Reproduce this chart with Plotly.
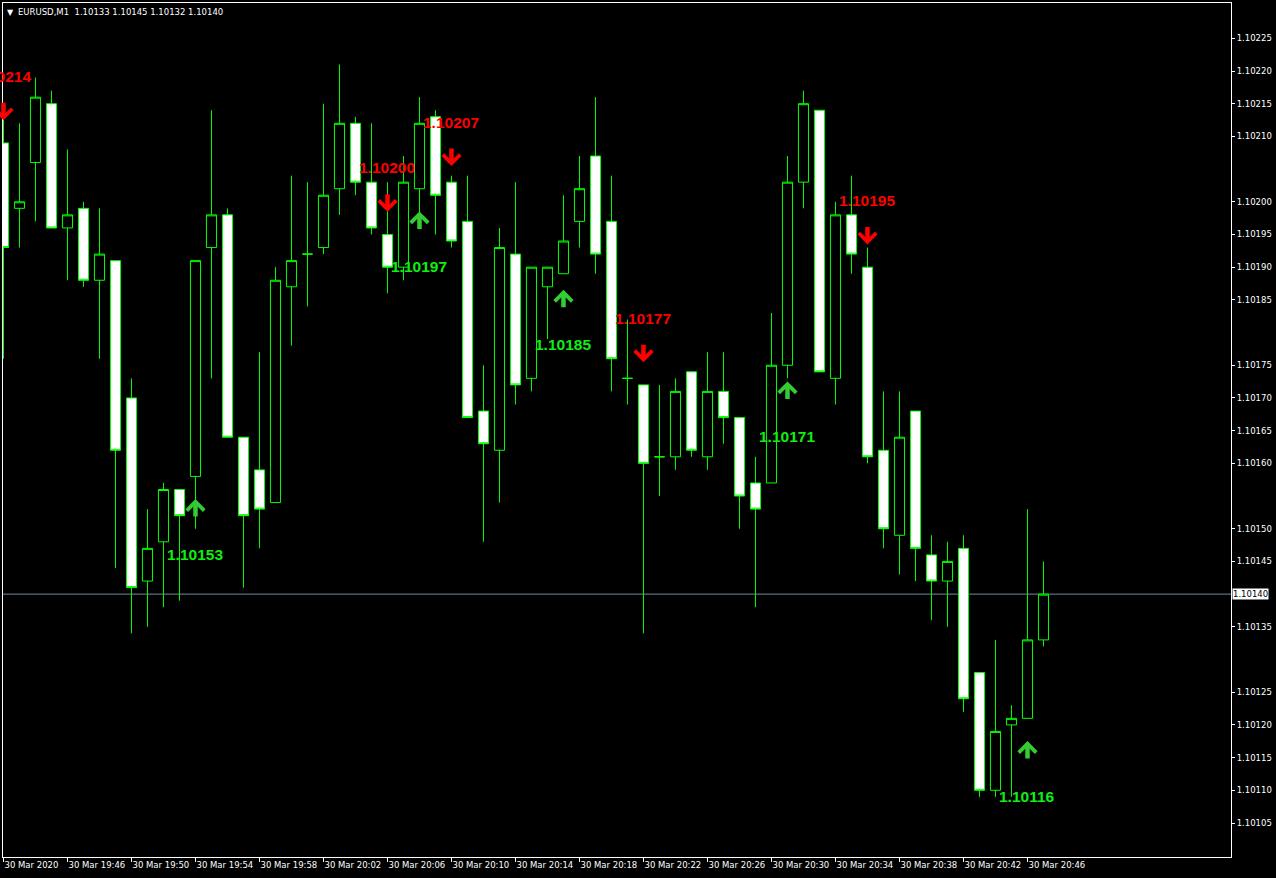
import plotly.graph_objects as go

# EURUSD M1, 30 Mar 2020 19:42 .. 20:47 (one bar per minute)
minute = list(range(66))
open_ = [1.10209, 1.10199, 1.10206, 1.10215, 1.10196, 1.10199, 1.10188, 1.10191, 1.10170, 1.10142,
         1.10148, 1.10156, 1.10158, 1.10193, 1.10198, 1.10164, 1.10159, 1.10154, 1.10187, 1.10192,
         1.10193, 1.10202, 1.10212, 1.10203, 1.10195, 1.10190, 1.10202, 1.10213, 1.10203, 1.10197,
         1.10168, 1.10162, 1.10192, 1.10173, 1.10187, 1.10189, 1.10197, 1.10207, 1.10197, 1.10173,
         1.10172, 1.10161, 1.10161, 1.10174, 1.10161, 1.10171, 1.10167, 1.10157, 1.10157, 1.10175,
         1.10203, 1.10214, 1.10173, 1.10198, 1.10190, 1.10162, 1.10149, 1.10168, 1.10146, 1.10142,
         1.10147, 1.10128, 1.10110, 1.10120, 1.10121, 1.10133]
high = [1.10214, 1.10212, 1.10219, 1.10217, 1.10208, 1.10200, 1.10199, 1.10191, 1.10173, 1.10153,
        1.10157, 1.10156, 1.10191, 1.10214, 1.10199, 1.10164, 1.10177, 1.10190, 1.10204, 1.10203,
        1.10215, 1.10221, 1.10213, 1.10212, 1.10203, 1.10207, 1.10216, 1.10214, 1.10204, 1.10204,
        1.10175, 1.10196, 1.10203, 1.10190, 1.10190, 1.10201, 1.10207, 1.10216, 1.10204, 1.10182,
        1.10172, 1.10172, 1.10173, 1.10174, 1.10177, 1.10177, 1.10167, 1.10161, 1.10183, 1.10207,
        1.10217, 1.10214, 1.10200, 1.10204, 1.10193, 1.10171, 1.10171, 1.10168, 1.10149, 1.10148,
        1.10149, 1.10128, 1.10133, 1.10123, 1.10153, 1.10145]
low = [1.10176, 1.10193, 1.10197, 1.10196, 1.10188, 1.10187, 1.10176, 1.10144, 1.10134, 1.10135,
       1.10138, 1.10139, 1.10150, 1.10173, 1.10164, 1.10141, 1.10147, 1.10154, 1.10178, 1.10184,
       1.10192, 1.10198, 1.10201, 1.10195, 1.10186, 1.10188, 1.10198, 1.10195, 1.10193, 1.10167,
       1.10148, 1.10154, 1.10169, 1.10171, 1.10179, 1.10189, 1.10193, 1.10189, 1.10171, 1.10169,
       1.10134, 1.10155, 1.10159, 1.10161, 1.10159, 1.10163, 1.10150, 1.10138, 1.10157, 1.10173,
       1.10199, 1.10174, 1.10169, 1.10189, 1.10160, 1.10147, 1.10143, 1.10142, 1.10136, 1.10135,
       1.10122, 1.10109, 1.10109, 1.10109, 1.10121, 1.10132]
close = [1.10193, 1.10200, 1.10216, 1.10196, 1.10198, 1.10188, 1.10192, 1.10162, 1.10141, 1.10147,
         1.10156, 1.10152, 1.10191, 1.10198, 1.10164, 1.10152, 1.10153, 1.10188, 1.10191, 1.10192,
         1.10201, 1.10212, 1.10203, 1.10196, 1.10190, 1.10203, 1.10212, 1.10201, 1.10194, 1.10167,
         1.10163, 1.10193, 1.10172, 1.10190, 1.10190, 1.10194, 1.10202, 1.10192, 1.10176, 1.10173,
         1.10160, 1.10161, 1.10171, 1.10162, 1.10171, 1.10167, 1.10155, 1.10153, 1.10175, 1.10203,
         1.10215, 1.10174, 1.10198, 1.10192, 1.10161, 1.10150, 1.10164, 1.10147, 1.10142, 1.10145,
         1.10124, 1.10110, 1.10119, 1.10121, 1.10133, 1.10140]

x_tick_idx = [0, 4, 8, 12, 16, 20, 24, 28, 32, 36, 40, 44, 48, 52, 56, 60, 64]
x_tick_text = ["30 Mar 2020", "30 Mar 19:46", "30 Mar 19:50", "30 Mar 19:54", "30 Mar 19:58",
               "30 Mar 20:02", "30 Mar 20:06", "30 Mar 20:10", "30 Mar 20:14", "30 Mar 20:18",
               "30 Mar 20:22", "30 Mar 20:26", "30 Mar 20:30", "30 Mar 20:34", "30 Mar 20:38",
               "30 Mar 20:42", "30 Mar 20:46"]
y_tick_vals = [1.10105, 1.10110, 1.10115, 1.10120, 1.10125, 1.10135, 1.10145, 1.10150,
               1.10160, 1.10165, 1.10170, 1.10175, 1.10185, 1.10190, 1.10195, 1.10200,
               1.10210, 1.10215, 1.10220, 1.10225]

# indicator signals
sell_idx = [0, 24, 28, 40, 54]
sell_price = [1.10214, 1.10200, 1.10207, 1.10177, 1.10195]
buy_idx = [12, 26, 35, 49, 64]
buy_price = [1.10153, 1.10197, 1.10185, 1.10171, 1.10116]

colors = {
    'bg': 'black',
    'fg': 'white',
    'candle': '#00FF00',
    'sell': '#FF0000',
    'buy_arrow': '#33CC33',
    'buy_text': '#11EE11',
    'price_line': '#778899',
}

fig = go.Figure()
fig.add_trace(go.Candlestick(
    x=minute, open=open_, high=high, low=low, close=close,
    increasing=dict(line=dict(color=colors['candle'], width=1), fillcolor='black'),
    decreasing=dict(line=dict(color=colors['candle'], width=1), fillcolor='white'),
    whiskerwidth=0, hoverinfo='skip', showlegend=False,
))

annotations = []
for i, p in zip(sell_idx, sell_price):
    annotations.append(dict(x=i, y=p, text='', showarrow=True, ax=0, ay=-19, yshift=-10,
                            arrowhead=4, arrowwidth=4.5, arrowsize=0.75, arrowcolor=colors['sell']))
    annotations.append(dict(x=i, y=p, text=f"{p:.5f}", showarrow=False, yshift=34,
                            font=dict(family="Liberation Sans", size=15.5, color=colors['sell'],
                                      weight='bold')))
for i, p in zip(buy_idx, buy_price):
    annotations.append(dict(x=i, y=p, text='', showarrow=True, ax=0, ay=19, yshift=10,
                            arrowhead=4, arrowwidth=4.5, arrowsize=0.75, arrowcolor=colors['buy_arrow']))
    annotations.append(dict(x=i, y=p, text=f"{p:.5f}", showarrow=False, yshift=-45,
                            font=dict(family="Liberation Sans", size=15.5, color=colors['buy_text'],
                                      weight='bold')))

# current price tag on the axis
annotations.append(dict(x=1, xref='paper', xanchor='left', xshift=1, y=close[-1], yref='y',
                        text=f"{close[-1]:.5f}", showarrow=False, bgcolor='white', borderpad=0,
                        font=dict(family="DejaVu Sans", size=8.5, color='black')))

# header
header = "EURUSD,M1  " + " ".join(f"{v:.5f}" for v in (open_[-1], high[-1], low[-1], close[-1]))
annotations.append(dict(x=0, xref='paper', xanchor='left', xshift=2, y=1, yref='paper',
                        yanchor='top', yshift=-3, text="▼", showarrow=False,
                        font=dict(family="DejaVu Sans", size=8, color=colors['fg'])))
annotations.append(dict(x=0, xref='paper', xanchor='left', xshift=13, y=1, yref='paper',
                        yanchor='top', yshift=-2, text=header, showarrow=False,
                        font=dict(family="DejaVu Sans", size=8.5, color=colors['fg'])))

fig.update_layout(
    width=1276, height=878,
    margin=dict(l=3, r=45, t=3, b=21, autoexpand=False),
    paper_bgcolor=colors['bg'], plot_bgcolor=colors['bg'],
    font=dict(family="DejaVu Sans", size=8.5, color=colors['fg']),
    showlegend=False,
    boxgap=0.1,
    annotations=annotations,
    shapes=[dict(type='line', xref='paper', x0=0, x1=1, yref='y', y0=close[-1], y1=close[-1],
                 line=dict(color=colors['price_line'], width=1), layer='below')],
    xaxis=dict(range=[-0.03, 76.72], rangeslider=dict(visible=False), automargin=False,
               showgrid=False, zeroline=False, showline=True, mirror=True,
               linecolor=colors['fg'], linewidth=1,
               tickmode='array', tickvals=x_tick_idx, ticktext=x_tick_text, tickangle=0,
               ticks='outside', ticklen=4, tickcolor=colors['fg'],
               ticklabelposition='outside right', tickfont=dict(size=8.5)),
    yaxis=dict(range=[1.100998, 1.102304], side='right', automargin=False,
               showgrid=False, zeroline=False, showline=True, mirror=True,
               linecolor=colors['fg'], linewidth=1,
               tickmode='array', tickvals=y_tick_vals, tickformat='.5f',
               ticks='outside', ticklen=3, tickcolor=colors['fg'], tickfont=dict(size=8.5)),
)

fig.write_html("out.html", config={'displayModeBar': False},
               post_script="document.body.style.margin='0';document.body.style.background='black';")
